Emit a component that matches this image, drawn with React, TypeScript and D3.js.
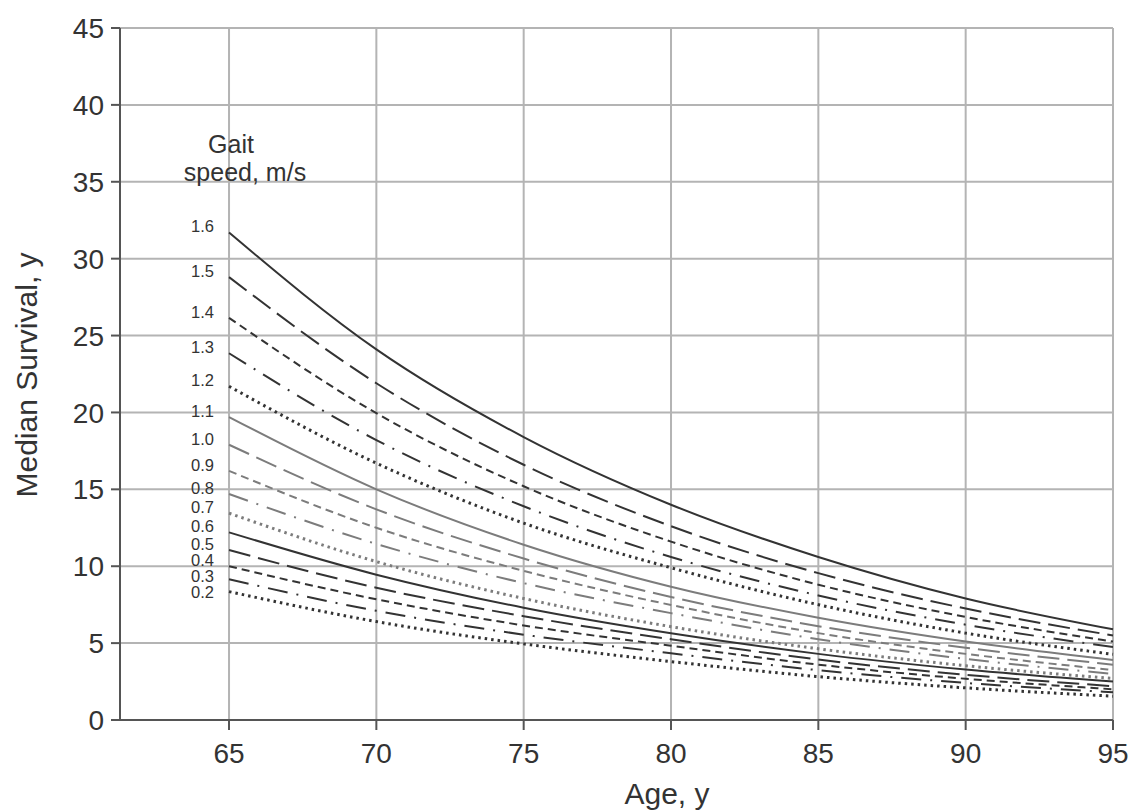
import React from 'react';
import * as d3 from 'd3';

// Age (x) positions at which values were read
const ages = [65, 70, 75, 80, 85, 90, 95];

// Gait speed labels (m/s), top to bottom
const speedLabels = ['1.6', '1.5', '1.4', '1.3', '1.2', '1.1', '1.0', '0.9', '0.8', '0.7', '0.6', '0.5', '0.4', '0.3', '0.2'];

// Median survival (years) per gait speed, at the ages above
const s16 = [31.7, 24.1, 18.4, 14.0, 10.6, 7.9, 5.9];
const s15 = [28.8, 21.9, 16.6, 12.6, 9.55, 7.25, 5.5];
const s14 = [26.15, 19.95, 15.2, 11.6, 8.8, 6.7, 5.1];
const s13 = [23.85, 18.2, 13.9, 10.6, 8.1, 6.2, 4.75];
const s12 = [21.7, 16.7, 12.8, 9.9, 7.5, 5.65, 4.27];
const s11 = [19.7, 15.0, 11.4, 8.67, 6.65, 5.1, 3.9];
const s10 = [17.9, 13.7, 10.5, 8.0, 6.1, 4.7, 3.6];
const s09 = [16.2, 12.5, 9.7, 7.48, 5.65, 4.3, 3.25];
const s08 = [14.7, 11.45, 8.9, 6.95, 5.25, 3.97, 3.0];
const s07 = [13.45, 10.3, 7.9, 6.07, 4.63, 3.53, 2.7];
const s06 = [12.2, 9.45, 7.3, 5.64, 4.3, 3.28, 2.5];
const s05 = [11.05, 8.6, 6.75, 5.25, 3.93, 2.94, 2.2];
const s04 = [10.0, 7.85, 6.15, 4.83, 3.6, 2.68, 2.0];
const s03 = [9.15, 7.1, 5.55, 4.34, 3.24, 2.41, 1.8];
const s02 = [8.35, 6.4, 4.95, 3.8, 2.82, 2.09, 1.55];

const seriesValues = [s16, s15, s14, s13, s12, s11, s10, s09, s08, s07, s06, s05, s04, s03, s02];

const xTicks = [65, 70, 75, 80, 85, 90, 95];
const yTicks = [0, 5, 10, 15, 20, 25, 30, 35, 40, 45];

const FONT = "'Liberation Sans', Arial, Helvetica, sans-serif";

// line style cycle: solid, long dash, short dash, dash-dot, dotted
const dashCycle = ['none', '22 8', '8 5', '20 9 2 9', '2.5 4'];

export default function App() {
  const x = d3.scaleLinear().domain([61.3, 95]).range([120, 1113]);
  const y = d3.scaleLinear().domain([0, 45]).range([720, 28]);
  const line = d3
    .line<number>()
    .x((_, i) => x(ages[i]))
    .y((d) => y(d))
    .curve(d3.curveMonotoneX);

  const [x0] = x.range();
  const [y0, y1] = y.range();

  // label positions: slightly above line start, kept at least 16px apart
  const labelY: number[] = [];
  seriesValues.forEach((vals, i) => {
    let ly = y(vals[0]) - 6;
    if (i > 0) ly = Math.max(ly, labelY[i - 1] + 16);
    labelY.push(ly);
  });

  return (
    <svg
      width={1131}
      height={810}
      style={{ position: 'absolute', left: 0, top: 0, background: '#fff' }}
      fontFamily={FONT}
    >
      {/* grid */}
      {yTicks.filter((t) => t > 0).map((t) => (
        <line key={'gy' + t} x1={x0} x2={x(95)} y1={y(t)} y2={y(t)} stroke="#b4b4b4" strokeWidth={2} />
      ))}
      {xTicks.map((t) => (
        <line key={'gx' + t} x1={x(t)} x2={x(t)} y1={y1} y2={y0} stroke="#b4b4b4" strokeWidth={2} />
      ))}
      {/* axes */}
      <line x1={x0} x2={x0} y1={y1} y2={y0} stroke="#555" strokeWidth={2} />
      <line x1={x0} x2={x(95)} y1={y0} y2={y0} stroke="#555" strokeWidth={2} />
      {yTicks.map((t) => (
        <g key={'yt' + t}>
          <line x1={x0 - 9} x2={x0} y1={y(t)} y2={y(t)} stroke="#555" strokeWidth={2} />
          <text x={x0 - 16} y={y(t)} dy="0.36em" textAnchor="end" fontSize={28} fill="#333">
            {t}
          </text>
        </g>
      ))}
      {xTicks.map((t) => (
        <g key={'xt' + t}>
          <line x1={x(t)} x2={x(t)} y1={y0} y2={y0 + 10} stroke="#555" strokeWidth={2} />
          <text x={x(t)} y={763} textAnchor="middle" fontSize={28} fill="#333">
            {t}
          </text>
        </g>
      ))}
      <text x={667} y={804} textAnchor="middle" fontSize={30} fill="#333">
        Age, y
      </text>
      <text
        transform={`translate(37,375) rotate(-90)`}
        textAnchor="middle"
        fontSize={30}
        fill="#333"
      >
        Median Survival, y
      </text>

      {/* header */}
      <text x={231} y={153} textAnchor="middle" fontSize={25} fill="#333">
        Gait
      </text>
      <text x={245} y={181} textAnchor="middle" fontSize={25} fill="#333">
        speed, m/s
      </text>

      {/* series */}
      {seriesValues.map((vals, i) => {
        const group = Math.floor(i / 5);
        const color = group === 1 ? '#7c7c7c' : '#333';
        const dash = dashCycle[i % 5];
        const dotted = i % 5 === 4;
        return (
          <g key={'s' + i}>
            <path
              d={line(vals) || ''}
              fill="none"
              stroke={color}
              strokeWidth={dotted ? 3 : 2}
              strokeDasharray={dash === 'none' ? undefined : dash}
            />
            <text
              x={x(65) - 15}
              y={labelY[i]}
              dy="0.35em"
              textAnchor="end"
              fontSize={16.5}
              fill="#333"
            >
              {speedLabels[i]}
            </text>
          </g>
        );
      })}
    </svg>
  );
}
